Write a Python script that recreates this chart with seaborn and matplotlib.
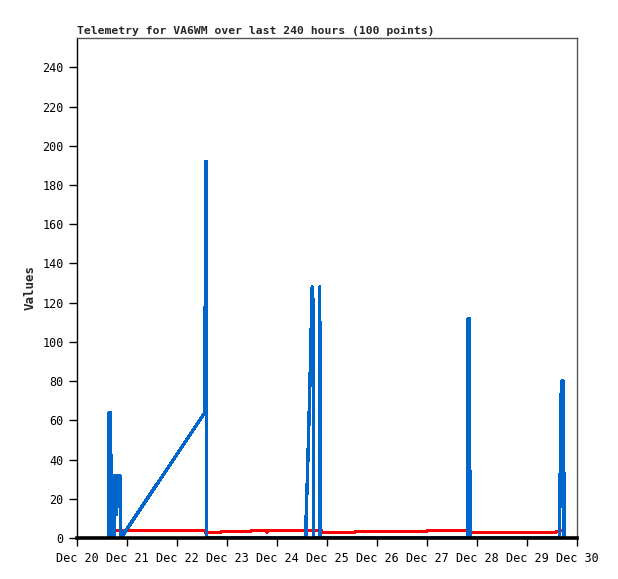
import matplotlib
matplotlib.use("Agg")
import matplotlib.pyplot as plt
import matplotlib.dates as mdates
import seaborn as sns
import pandas as pd
import numpy as np

# 数据: 小时偏移 (从 Dec 20 00:00 起)
start = pd.Timestamp("2023-12-20 00:00")

blue_hours = [15.3, 15.4, 16.1, 16.3, 16.8, 17.3, 17.8, 18.2, 19.0, 19.4, 19.9, 20.6, 21.1,
              61.4, 61.7, 62.1, 62.3,
              109.9, 110.0, 110.6, 111.2, 111.7, 112.2, 112.6, 112.9, 113.3, 113.6,
              116.3, 116.5, 116.9,
              187.5, 187.7, 188.2, 188.4, 188.8,
              231.6, 231.8, 232.2, 232.5, 233.5, 233.8]
blue_values = [0, 64, 64, 32, 0, 32, 0, 32, 12, 24, 32, 32, 0,
               64, 192, 192, 0,
               0, 11, 32, 54, 75, 96, 117, 128, 120, 0,
               0, 128, 0,
               0, 112, 112, 56, 0,
               0, 20, 60, 80, 80, 0]

red_hours = [15.4, 61.6, 61.8, 69.0, 69.2, 83.4, 83.6, 90.8, 91.0, 91.3, 91.5, 117.4, 117.6,
             133.3, 133.5, 167.9, 168.1, 187.7, 187.9, 229.4, 231.0, 232.0, 233.6]
red_values = [3.8, 3.8, 2.8, 2.8, 3.4, 3.4, 3.9, 3.9, 3.0, 3.0, 3.9, 3.9, 2.9,
              2.9, 3.4, 3.4, 3.9, 3.9, 2.9, 2.9, 3.5, 4.0, 4.0]

y_ticks = list(range(0, 241, 20))
day_ticks = pd.date_range("2023-12-20", "2023-12-30", freq="D")

blue_df = pd.DataFrame({"time": start + pd.to_timedelta(blue_hours, unit="h"), "value": blue_values})
red_df = pd.DataFrame({"time": start + pd.to_timedelta(red_hours, unit="h"), "value": red_values})

sns.set_style("white")
plt.rcParams['font.family'] = ['DejaVu Sans Mono']

fig = plt.figure(figsize=(6.18, 5.79), dpi=100)
ax = fig.add_axes([77 / 618, 41 / 579, 500 / 618, 500 / 579])

sns.lineplot(data=red_df, x="time", y="value", ax=ax, color="#ff0000", linewidth=1.5,
             antialiased=False, zorder=2)
sns.lineplot(data=blue_df, x="time", y="value", ax=ax, color="#0066cc", linewidth=1.7,
             antialiased=False, zorder=3)

ax.set_xlim(day_ticks[0], day_ticks[-1])
ax.set_ylim(0, 255)
ax.set_yticks(y_ticks)
ax.set_xticks(day_ticks)
ax.xaxis.set_major_formatter(mdates.DateFormatter("%b %d"))
ax.tick_params(axis="both", direction="out", length=6, width=1, labelsize=8.5, colors="black",
               bottom=True, left=True)
ax.tick_params(axis="x", pad=4)

ax.set_xlabel("")
ax.set_ylabel("Values", fontsize=9, fontweight="bold", labelpad=4)
ax.set_title("Telemetry for VA6WM over last 240 hours (100 points)", fontsize=8.2,
             fontweight="bold", loc="left", pad=3)

for side in ["top", "right"]:
    ax.spines[side].set_color("#555555")
    ax.spines[side].set_linewidth(1)
ax.spines["left"].set_color("black")
ax.spines["left"].set_linewidth(1)
ax.spines["bottom"].set_color("black")
ax.spines["bottom"].set_linewidth(2.6)
ax.spines["bottom"].set_zorder(5)

fig.savefig("out.png", dpi=100)
